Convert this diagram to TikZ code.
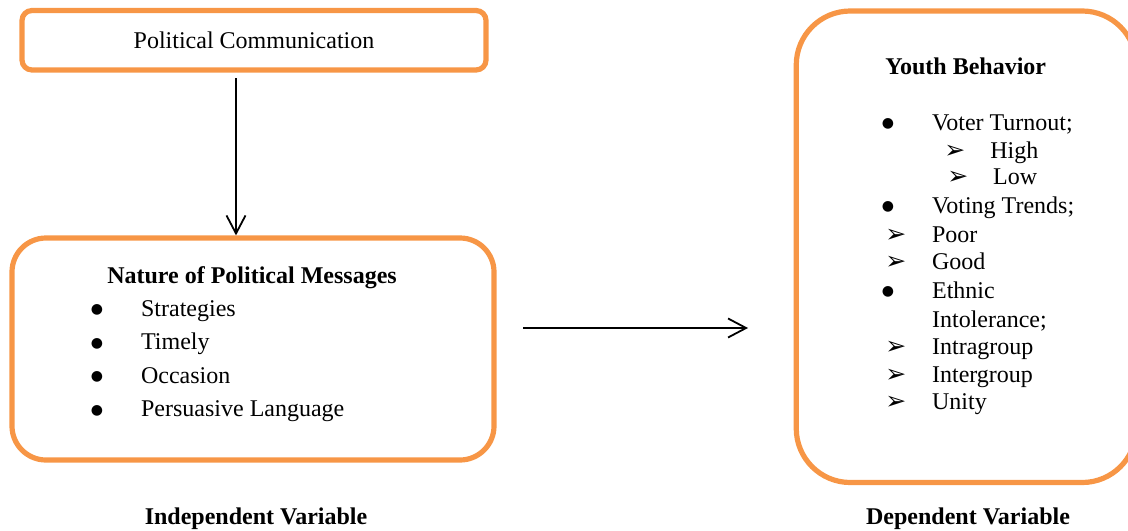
\documentclass[tikz,border=0pt]{standalone}
\usepackage{fontspec}
\setmainfont{Liberation Serif}
\newfontfamily\dingfont{DejaVu Sans}
\usepackage{xcolor}
\usetikzlibrary{calc,shapes,arrows.meta}
\definecolor{boxorange}{HTML}{F79646}

\begin{document}
\begin{tikzpicture}[
    x=0.5pt, y=-0.5pt,
    orangebox/.style={draw=boxorange, line width=2.6pt, inner sep=0pt},
    pile/.style={line width=0.9pt, -{Straight Barb[length=9pt,width=9.5pt]}},
    every node/.style={color=black, font=\fontsize{12}{14}\selectfont},
    heading/.style={inner sep=0pt, font=\fontsize{12}{14}\selectfont\bfseries},
    entry/.style={anchor=base west, inner sep=0pt},
    bulletmark/.style={anchor=base, inner sep=0pt, yshift=1.2pt, font=\dingfont\fontsize{7}{8}\selectfont},
    arrowmark/.style={anchor=base west, inner sep=0pt, font=\dingfont\fontsize{12.5}{13}\selectfont}
    ]
    \useasboundingbox (0,0) rectangle (1128,530);
    \clip (0,0) rectangle (1128,530);
    % Boxes
    \node[orangebox, rounded corners=5pt, minimum width=232pt, minimum height=29.75pt]
        (comm) at (254,40.25) {Political Communication};
    \node[orangebox, rounded corners=17pt, minimum width=241pt, minimum height=111pt]
        (msgs) at (253,349) {};
    \node[orangebox, rounded corners=27pt, minimum width=170pt, minimum height=235.75pt]
        (youth) at (966.25,246.75) {};
    % Arrows
    \coordinate (down) at (236,78);
    \draw[pile] (down) -- (down |- msgs.north);
    \coordinate (from) at (523,328);
    \coordinate (to) at (748,328);
    \draw[pile] (from) -- (to);
    % Nature of the messages
    \node[heading, anchor=base] (msgtitle) at (252,283) {Nature of Political Messages};
    \foreach \txt [count=\i] in {Strategies, Timely, Occasion, Persuasive Language}{
        \node[bulletmark] (mb\i) at (97,282.5+33.5*\i) {●};
        \node[entry] (mi\i) at (140.7,282.5+33.5*\i) {\txt};
    }
    % Youth behavior
    \node[heading, anchor=base west] (youthtitle) at (885,74) {Youth Behavior};
    \node[bulletmark] (yb1) at (888,130) {●};
    \node[entry] (turnout) at (931.7,130) {Voter Turnout;};
    \node[arrowmark] (ya1) at (944,158) {➢};
    \node[entry] (high) at (990,158) {High};
    \node[arrowmark] (ya2) at (947,184) {➢};
    \node[entry] (low) at (992.7,184) {Low};
    \node[bulletmark] (yb2) at (888,213) {●};
    \node[entry] (trends) at (931.7,213) {Voting Trends;};
    \node[arrowmark] (ya3) at (885,242) {➢};
    \node[entry] (poor) at (931.7,242) {Poor};
    \node[arrowmark] (ya4) at (885,269) {➢};
    \node[entry] (good) at (931.7,269) {Good};
    \node[bulletmark] (yb3) at (888,298) {●};
    \node[entry] (ethnic) at (931.7,298) {Ethnic};
    \node[entry] (intol) at (931.7,327) {Intolerance;};
    \node[arrowmark] (ya5) at (885,354) {➢};
    \node[entry] (intra) at (931.7,354) {Intragroup};
    \node[arrowmark] (ya6) at (885,382) {➢};
    \node[entry] (inter) at (931.7,382) {Intergroup};
    \node[arrowmark] (ya7) at (885,409) {➢};
    \node[entry] (unity) at (931.7,409) {Unity};
    % Variables
    \node[heading, anchor=base] (indep) at (256,524) {Independent Variable};
    \node[heading, anchor=base] (dep) at (968,524) {Dependent Variable};
\end{tikzpicture}
\end{document}
